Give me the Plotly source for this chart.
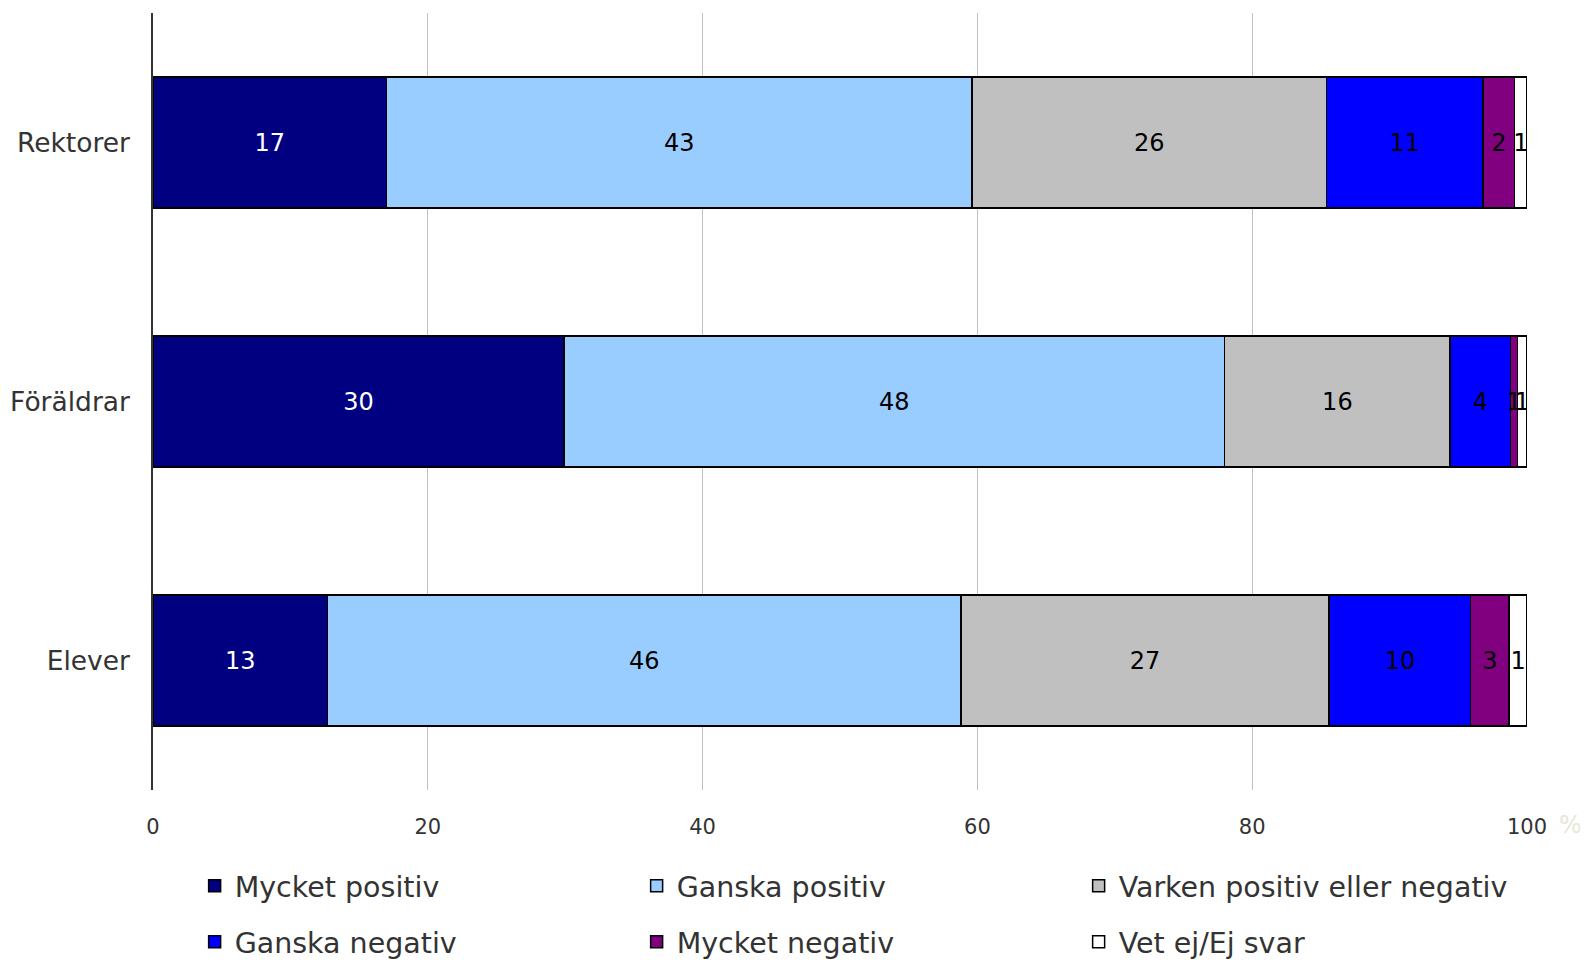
import plotly.graph_objects as go

categories = ["Rektorer", "Föräldrar", "Elever"]
series_names = ["Mycket positiv", "Ganska positiv", "Varken positiv eller negativ",
                "Ganska negativ", "Mycket negativ", "Vet ej/Ej svar"]
mycket_positiv = [17.0, 29.9, 12.7]
ganska_positiv = [42.6, 48.1, 46.1]
varken = [25.8, 16.4, 26.8]
ganska_negativ = [11.4, 4.4, 10.3]
mycket_negativ = [2.3, 0.5, 2.8]
vet_ej = [0.9, 0.7, 1.3]
series_values = [mycket_positiv, ganska_positiv, varken, ganska_negativ, mycket_negativ, vet_ej]
x_ticks = [0, 20, 40, 60, 80, 100]

colors = ["#000080", "#99CCFF", "#C0C0C0", "#0000FF", "#800080", "#FFFFFF"]
text_colors = ["white", "black", "black", "black", "black", "black"]
FONT = "DejaVu Sans"


def label(v):
    n = int(v + 0.5)
    return str(max(n, 1))


fig = go.Figure()
for i, (name, vals) in enumerate(zip(series_names, series_values)):
    fig.add_trace(go.Bar(
        name=name, y=categories, x=vals, orientation="h",
        marker=dict(color=colors[i], line=dict(color="black", width=1.5)),
        text=[label(v) for v in vals],
        textposition="inside", insidetextanchor="middle", textangle=0,
        constraintext="none",
        textfont=dict(family=FONT, size=24, color=text_colors[i]),
        legend="legend" if i < 3 else "legend2",
    ))

leg_common = dict(orientation="h", x=0.0303, xanchor="left", yanchor="middle",
                  entrywidth=397, entrywidthmode="pixels",
                  font=dict(size=28.5, color="#333333"), bgcolor="rgba(0,0,0,0)",
                  traceorder="normal")

fig.update_layout(
    width=1580, height=955, barmode="stack", bargap=0.495,
    plot_bgcolor="white", paper_bgcolor="white",
    margin=dict(l=145, r=61, t=5, b=173, autoexpand=False),
    font=dict(family=FONT, color="#333333"),
    xaxis=dict(range=[0, 100], tickvals=x_ticks, showgrid=True, gridcolor="#C0C0C0",
               gridwidth=1, zeroline=False, showline=False, automargin=False,
               tickfont=dict(size=21, color="#333333"), ticklabelstandoff=22),
    yaxis=dict(autorange="reversed", showline=True, linecolor="#333333", linewidth=1.5,
               automargin=False,
               tickfont=dict(size=26.5, color="#333333"), ticklabelstandoff=16),
    legend=dict(y=-0.124, **leg_common),
    legend2=dict(y=-0.196, **leg_common),
    annotations=[dict(text="%", xref="paper", yref="paper", x=1.032, y=-0.045,
                      xanchor="center", yanchor="middle",
                      showarrow=False, font=dict(size=24, color="#E8E6D8"))],
)

fig.write_html("out.html")
